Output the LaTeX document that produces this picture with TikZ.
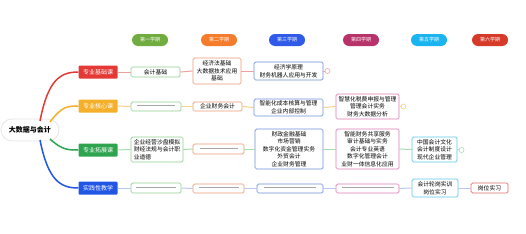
\documentclass[tikz,border=0pt]{standalone}
\usepackage{fontspec}
\setmainfont{Noto Sans CJK SC}
\usetikzlibrary{positioning}
\definecolor{cRed}{RGB}{229,57,53}
\definecolor{cOrg}{RGB}{244,176,42}
\definecolor{cGrn}{RGB}{46,164,79}
\definecolor{cBlu}{RGB}{34,87,230}
\definecolor{sA}{RGB}{112,172,64}
\definecolor{sB}{RGB}{245,124,42}
\definecolor{sC}{RGB}{47,91,232}
\definecolor{sD}{RGB}{184,51,106}
\definecolor{sE}{RGB}{26,180,240}
\definecolor{sF}{RGB}{214,59,42}
\definecolor{bA}{RGB}{143,206,143}
\definecolor{bB}{RGB}{236,154,112}
\definecolor{bC}{RGB}{111,143,220}
\definecolor{bD}{RGB}{224,123,181}
\definecolor{bE}{RGB}{92,200,232}
\definecolor{bF}{RGB}{217,112,106}
\definecolor{rA}{RGB}{240,160,160}
\definecolor{rB}{RGB}{247,208,138}
\definecolor{rC}{RGB}{168,220,174}
\definecolor{rD}{RGB}{184,200,240}
\newcommand{\emptyln}[1]{\textcolor{gray!70}{\rule[1.6pt]{#1pt}{0.5pt}}}
\tikzset{
  txt/.style={font=\fontsize{5.8}{7.6}\selectfont, align=center, inner sep=1pt},
  cbox/.style={txt, draw=#1, line width=0.7pt, fill=white, rounded corners=1.5pt},
  cat/.style={fill=#1, text=white, font=\fontsize{6}{7}\selectfont, minimum width=39pt, minimum height=13pt, inner sep=0pt, rounded corners=1pt},
  sem/.style={fill=#1, text=white, font=\fontsize{5}{6}\selectfont, minimum width=36pt, minimum height=12pt, inner sep=0pt, rounded corners=6pt},
  br/.style={draw=#1, line width=1.5pt},
  rl/.style={draw=#1, line width=1pt},
  mk/.style={circle, draw=#1, line width=0.6pt, fill=white, minimum size=5pt, inner sep=0pt}
}
\begin{document}
\begin{tikzpicture}[x=1pt,y=-1pt]
\useasboundingbox (0,0) rectangle (526,233);
% central
\node[draw=gray!20, line width=0.8pt, fill=white, rounded corners=11pt, minimum width=58pt, minimum height=22pt, font=\fontsize{7}{8}\selectfont\bfseries] (cent) at (30,130) {大数据与会计};
% categories
\node[cat=cRed] (c1) at (98,72) {专业基础课};
\node[cat=cOrg] (c2) at (98,106) {专业核心课};
\node[cat=cGrn] (c3) at (98,150) {专业拓展课};
\node[cat=cBlu] (c4) at (98,188) {实践性教学};
% branches
\draw[br=cRed] (40,121) .. controls (48,80) and (60,72) .. (c1.west);
\draw[br=cOrg] (50,122) .. controls (62,106) and (68,106) .. (c2.west);
\draw[br=cGrn] (50,139) .. controls (62,150) and (68,150) .. (c3.west);
\draw[br=cBlu] (40,140) .. controls (48,180) and (60,188) .. (c4.west);
% semesters
\node[sem=sA] (h1) at (150,40) {第一学期};
\node[sem=sB] (h2) at (219,40) {第二学期};
\node[sem=sC] (h3) at (287,40) {第三学期};
\node[sem=sD] (h4) at (361,40) {第四学期};
\node[sem=sE] (h5) at (429,40) {第五学期};
\node[sem=sF] (h6) at (490,40) {第六学期};
% row 1
\node[cbox=bA, minimum width=49pt, minimum height=10pt] (b11) at (155.5,72) {会计基础};
\node[cbox=bB, minimum width=48pt, minimum height=26pt] (b12) at (217,71) {经济法基础\\大数据技术应用\\基础};
\node[cbox=bC, minimum width=69pt, minimum height=18pt] (b13) at (288.5,71) {经济学原理\\财务机器人应用与开发};
\node[mk=rA] (m1) at (327.5,71) {};
\draw[rl=rA] (c1.east) -- (b11.west);
\draw[rl=rA] (b11.east) -- (b12.west);
\draw[rl=rA] (b12.east) -- (b13.west);
\draw[rl=rA] (b13.east) -- (m1.west);
% row 2
\node[cbox=bA, minimum width=50pt, minimum height=9pt] (b21) at (156,106.5) {\emptyln{38}};
\node[cbox=bB, minimum width=49pt, minimum height=9pt] (b22) at (217.5,106.5) {企业财务会计};
\node[cbox=bC, minimum width=69pt, minimum height=17pt] (b23) at (288.5,107.5) {智能化成本核算与管理\\企业内部控制};
\node[cbox=bD, minimum width=63pt, minimum height=25pt] (b24) at (367.5,106.5) {智慧化税费申报与管理\\管理会计实务\\财务大数据分析};
\node[mk=rB] (m2) at (403.5,106.5) {};
\draw[rl=rB] (c2.east) -- (b21.west);
\draw[rl=rB] (b21.east) -- (b22.west);
\draw[rl=rB] (b22.east) -- (b23.west);
\draw[rl=rB] (b23.east) -- (b24.west);
\draw[rl=rB] (b24.east) -- (m2.west);
% row 3
\node[cbox=bA, minimum width=52pt, minimum height=25pt, align=left] (b31) at (157,149.5) {企业经营沙盘模拟\\财经法规与会计职\\业道德};
\node[cbox=bB, minimum width=51pt, minimum height=10pt] (b32) at (218.5,149) {\emptyln{38}};
\node[cbox=bC, minimum width=68pt, minimum height=40pt] (b33) at (289,149) {财政金融基础\\市场营销\\数字化资金管理实务\\外贸会计\\企业财务管理};
\node[cbox=bD, minimum width=63pt, minimum height=40pt] (b34) at (367.5,149) {智能财务共享服务\\审计基础与实务\\会计专业英语\\数字化管理会计\\业财一体信息化应用};
\node[cbox=bE, minimum width=45pt, minimum height=25pt] (b35) at (434.5,149.5) {中国会计文化\\会计制度设计\\现代企业管理};
\node[mk=rC] (m3) at (461.5,150) {};
\draw[rl=rC] (c3.east) -- (b31.west);
\draw[rl=rC] (b31.east) -- (b32.west);
\draw[rl=rC] (b32.east) -- (b33.west);
\draw[rl=rC] (b33.east) -- (b34.west);
\draw[rl=rC] (b34.east) -- (b35.west);
\draw[rl=rC] (b35.east) -- (m3.west);
% row 4
\node[cbox=bA, minimum width=50pt, minimum height=10pt] (b41) at (156,188) {\emptyln{40}};
\node[cbox=bB, minimum width=51pt, minimum height=9pt] (b42) at (218.5,188.5) {\emptyln{40}};
\node[cbox=bC, minimum width=66pt, minimum height=9pt] (b43) at (290,188.5) {\emptyln{52}};
\node[cbox=bD, minimum width=63pt, minimum height=9pt] (b44) at (367.5,188.5) {\emptyln{52}};
\node[cbox=bE, minimum width=46pt, minimum height=18pt] (b45) at (435,188) {会计轮岗实训\\岗位实习};
\node[cbox=bF, minimum width=37pt, minimum height=10pt] (b46) at (489.5,188) {岗位实习};
\draw[rl=rD] (c4.east) -- (b41.west);
\draw[rl=rD] (b41.east) -- (b42.west);
\draw[rl=rD] (b42.east) -- (b43.west);
\draw[rl=rD] (b43.east) -- (b44.west);
\draw[rl=rD] (b44.east) -- (b45.west);
\draw[rl=rD] (b45.east) -- (b46.west);
\end{tikzpicture}
\end{document}
